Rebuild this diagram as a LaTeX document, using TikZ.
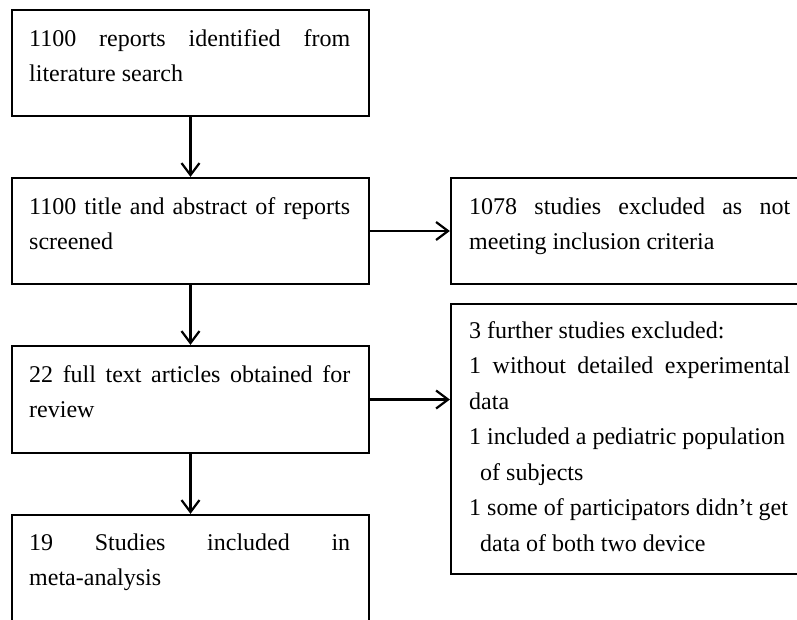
\documentclass[tikz,border=0pt]{standalone}
\usepackage{fontspec}
\setmainfont{Liberation Serif}
\usetikzlibrary{arrows.meta}
\begin{document}
\begin{tikzpicture}[x=1pt,y=-1pt,
  boxnode/.style={draw=black, line width=2.2pt, inner sep=0pt, minimum width=357pt},
  txt/.style={anchor=base west, inner sep=0pt, align=left, font=\fontsize{24}{35.5}\selectfont},
  conn/.style={line width=2.2pt, -{Straight Barb[length=12pt,width=18pt,line width=2.2pt]}}]
\newcommand{\fl}[1]{\makebox[321pt][s]{#1}}
\clip (0,0) rectangle (797,619);
\fill[white] (0,0) rectangle (797,619);
% boxes
\node[boxnode, minimum height=106pt] (b1) at (190.5,63) {};
\node[boxnode, minimum height=106pt] (b2) at (190.5,231) {};
\node[boxnode, minimum width=358pt, minimum height=106pt] (b3) at (630,231) {};
\node[boxnode, minimum height=107pt] (b4) at (190.5,399.5) {};
\node[boxnode, minimum width=358pt, minimum height=270pt] (b5) at (630,439) {};
\node[boxnode, minimum height=107pt] (b6) at (190.5,568.5) {};
% texts (anchor = baseline of the last line)
\node[txt] (t1) at (29,81.5) {\fl{1100 reports identified from}\\literature search};
\node[txt] (t2) at (29,249.5) {\fl{1100 title and abstract of reports}\\screened};
\node[txt] (t3) at (469,249.5) {\fl{1078 studies excluded as not}\\meeting inclusion criteria};
\node[txt] (t4) at (29,417.5) {\fl{22 full text articles obtained for}\\review};
\node[txt] (t5) at (469,551) {3 further studies excluded:\\\fl{1 without detailed experimental}\\data\\1 included a pediatric population\\\hspace*{11pt}of subjects\\1 some of participators didn’t get\\\hspace*{11pt}data of both two device};
\node[txt] (t6) at (29,585.5) {\fl{19 Studies included in}\\meta-analysis};
% connectors
\draw[conn] (b1.south) -- (b2.north);
\draw[conn] (b2.south) -- (b4.north);
\draw[conn] (b4.south) -- (b6.north);
\draw[conn] (b2.east) -- (b3.west);
\draw[conn] (b4.east) -- (b4.east -| b5.west);
\end{tikzpicture}
\end{document}
